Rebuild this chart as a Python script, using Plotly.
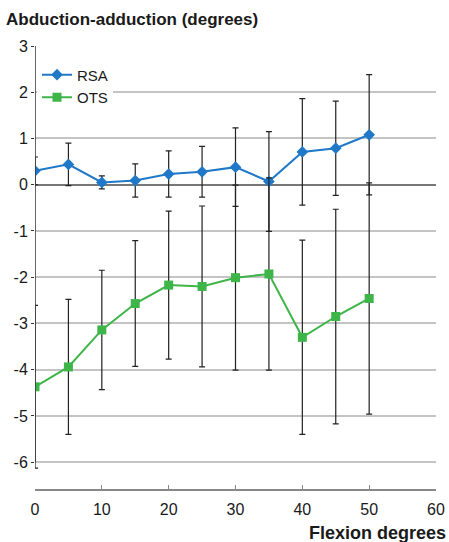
import plotly.graph_objects as go

flexion = [0, 5, 10, 15, 20, 25, 30, 35, 40, 45, 50]
rsa_mean = [0.30, 0.44, 0.05, 0.09, 0.23, 0.28, 0.38, 0.07, 0.71, 0.79, 1.08]
rsa_sd = [0.30, 0.46, 0.14, 0.36, 0.50, 0.55, 0.85, 1.08, 1.15, 1.02, 1.30]
ots_mean = [-4.37, -3.94, -3.14, -2.57, -2.17, -2.20, -2.01, -1.93, -3.30, -2.85, -2.46]
ots_sd = [1.76, 1.46, 1.29, 1.36, 1.60, 1.74, 2.00, 2.08, 2.10, 2.32, 2.50]
x_ticks = [0, 10, 20, 30, 40, 50, 60]
y_ticks = [-6, -5, -4, -3, -2, -1, 0, 1, 2, 3]
y_tick_labels = ["-6", "-5", "-4", "-3", "-2", "-1", "0", "1", "2", "3"]

FONT = "Liberation Sans, Arial, sans-serif"
TXT = "#1a1a1a"
BLUE = "#1f78c8"
GREEN = "#3db549"

fig = go.Figure()
fig.add_trace(go.Scatter(
    x=flexion, y=rsa_mean, name="RSA", mode="lines+markers",
    line=dict(color=BLUE, width=2),
    marker=dict(symbol="diamond", size=9, color=BLUE),
    error_y=dict(type="data", array=rsa_sd, visible=True, color="#222222", thickness=1.2, width=3),
))
fig.add_trace(go.Scatter(
    x=flexion, y=ots_mean, name="OTS", mode="lines+markers",
    line=dict(color=GREEN, width=2),
    marker=dict(symbol="square", size=9, color=GREEN),
    error_y=dict(type="data", array=ots_sd, visible=True, color="#222222", thickness=1.2, width=3),
))

# y-axis line from -6 to 3
fig.add_shape(type="line", xref="x", yref="y", x0=0, x1=0, y0=-6, y1=3,
              line=dict(color="#333333", width=1.5), layer="above")

fig.update_layout(
    width=449, height=542,
    margin=dict(l=35, r=13, t=46, b=53),
    paper_bgcolor="white", plot_bgcolor="white",
    font=dict(family=FONT, size=14, color=TXT),
    showlegend=True,
    legend=dict(x=0.005, y=0.972, xanchor="left", yanchor="top",
                bgcolor="white", font=dict(size=15, color=TXT),
                tracegroupgap=0, itemwidth=30),
    xaxis=dict(range=[0, 60], tickvals=x_ticks, showgrid=False, zeroline=False,
               showline=True, linecolor="#888888", linewidth=1.5,
               ticks="inside", ticklen=4, tickcolor="#888888",
               ticklabelstandoff=5,
               tickfont=dict(size=16, color=TXT), fixedrange=True,
               automargin=False),
    yaxis=dict(range=[-6.58, 3], tickvals=y_ticks, ticktext=y_tick_labels, showgrid=True,
               gridcolor="#c4c4c4", gridwidth=1.5,
               zeroline=True, zerolinecolor="#777777", zerolinewidth=1.5,
               showline=False, ticks="outside", ticklen=3, tickcolor="#333333",
               tickfont=dict(size=16, color=TXT), fixedrange=True,
               automargin=False),
    annotations=[
        dict(text="<b>Abduction-adduction (degrees)</b>", xref="paper", yref="paper",
             x=-0.078, y=1.0587, xanchor="left", yanchor="middle", showarrow=False,
             font=dict(size=17, color=TXT)),
        dict(text="<b>Flexion degrees</b>", xref="paper", yref="paper",
             x=1.03, y=-0.0993, xanchor="right", yanchor="middle", showarrow=False,
             font=dict(size=18, color=TXT)),
    ],
)

fig.write_html("out.html", config={"displayModeBar": False},
               post_script="document.body.style.margin='0';")
